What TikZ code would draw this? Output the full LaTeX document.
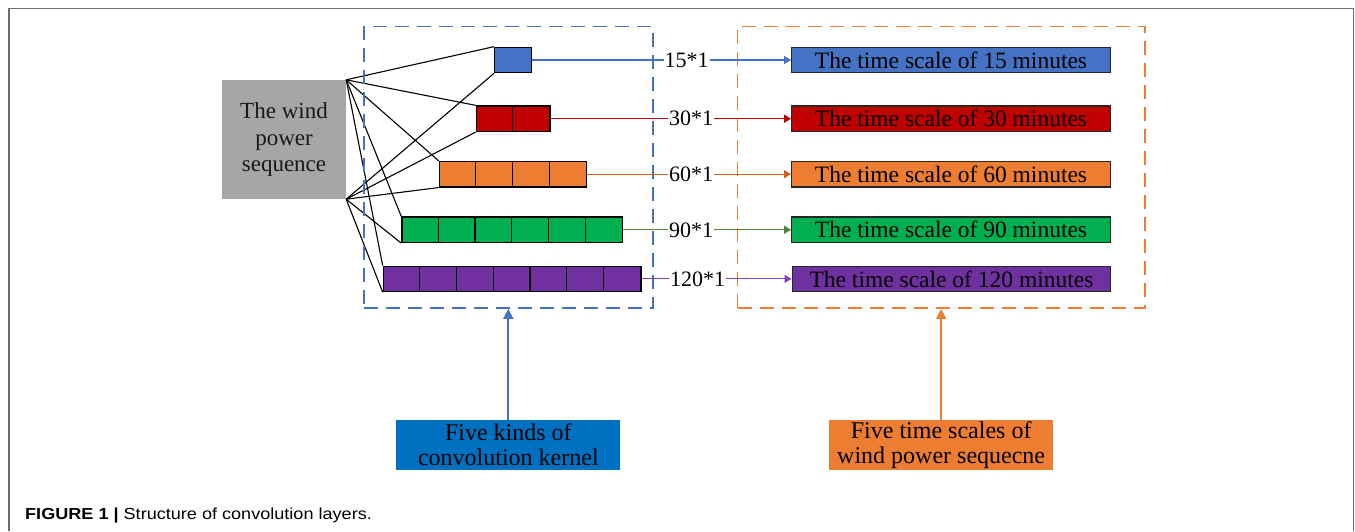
\documentclass[tikz,border=0pt]{standalone}
\usepackage{fontspec}
\setmainfont{Liberation Serif}
\newfontfamily\capfont[FakeStretch=1.13]{Liberation Sans}
\usetikzlibrary{arrows.meta}
\definecolor{kblue}{HTML}{4472C4}
\definecolor{kred}{HTML}{C00000}
\definecolor{korange}{HTML}{ED7D31}
\definecolor{kgreen}{HTML}{00B050}
\definecolor{kpurple}{HTML}{7030A0}
\definecolor{lorange}{HTML}{D2601A}
\definecolor{lgreen}{HTML}{548235}
\definecolor{lpurple}{HTML}{8040B8}
\definecolor{bblue}{HTML}{0070C0}
\definecolor{sgrey}{HTML}{A6A6A6}
\definecolor{framegrey}{HTML}{6E6E6E}
\begin{document}
\begin{tikzpicture}[x=1pt,y=-1pt,
  kernel/.style={draw=black,line width=1.2pt,minimum height=25.5pt,inner sep=0pt,anchor=west},
  divider/.style={draw=black,line width=1.2pt},
  fan/.style={draw=black,line width=1.1pt},
  scalebox/.style={draw=black!85,line width=1.3pt,minimum width=318.5pt,minimum height=25.5pt,inner sep=0pt,
    font=\fontsize{23.5}{26}\selectfont,text=black},
  lbl/.style={inner sep=0.6pt,font=\fontsize{22}{26}\selectfont},
  link/.style={line width=1.1pt},
  tip/.style={-{Triangle[length=7pt,width=8pt]}},
  dashbox/.style={line width=1.8pt,dash pattern=on 14pt off 8pt,minimum width=#1,minimum height=281.5pt,inner sep=0pt},
  infobox/.style={minimum height=50pt,inner sep=0pt,align=center,font=\fontsize{24}{25}\selectfont},
  uparrow/.style={line width=1.8pt,-{Triangle[length=10pt,width=10pt]}}
]
\useasboundingbox (0,0) rectangle (1355,531);
% outer frame
\draw[framegrey,line width=1.6pt] (9,531) -- (9,8.5) -- (1353.5,8.5) -- (1353.5,531);

% source
\node[fill=sgrey,minimum width=124pt,minimum height=119pt,inner sep=0pt,align=center,
  font=\fontsize{23}{26.5}\selectfont,text=black!90] (g) at (284,139.5) {The wind\\power\\sequence};

% kernels
\node[kernel,fill=kblue,minimum width=36.8pt] (k1) at (494,60) {};
\node[kernel,fill=kred,minimum width=73.6pt] (k2) at (475.7,118.7) {};
\node[kernel,fill=korange,minimum width=147.2pt] (k3) at (438.7,174.2) {};
\node[kernel,fill=kgreen,minimum width=220.8pt] (k4) at (401.3,229.8) {};
\node[kernel,fill=kpurple,minimum width=257.6pt] (k5) at (382.7,278.9) {};
\draw[divider] ([xshift=36.8pt]k2.north west) -- ([xshift=36.8pt]k2.south west);
\foreach \i in {1,2,3}{\draw[divider] ([xshift=\i*36.8pt]k3.north west) -- ([xshift=\i*36.8pt]k3.south west);}
\foreach \i in {1,...,5}{\draw[divider] ([xshift=\i*36.8pt]k4.north west) -- ([xshift=\i*36.8pt]k4.south west);}
\foreach \i in {1,...,6}{\draw[divider] ([xshift=\i*36.8pt]k5.north west) -- ([xshift=\i*36.8pt]k5.south west);}

% fan connections
\foreach \k in {k1,k2,k3,k4,k5}{
  \draw[fan] (g.north east) -- (\k.north west);
  \draw[fan] (g.south east) -- (\k.south west);
}

% dashed groups
\node[dashbox=288.7pt,draw=kblue] (db) at (508.35,167.25) {};
\node[dashbox=407.3pt,draw=korange] (do) at (941.15,167.25) {};

% labels
\node[lbl] (l1) at (686.7,60) {15*1};
\node[lbl] (l2) at (691,118.7) {30*1};
\node[lbl] (l3) at (691,174.2) {60*1};
\node[lbl] (l4) at (691,229.8) {90*1};
\node[lbl] (l5) at (697.5,278.9) {120*1};

% time-scale boxes
\node[scalebox,fill=kblue] (t1) at (951,60) {The time scale of 15 minutes};
\node[scalebox,fill=kred] (t2) at (951,118.7) {The time scale of 30 minutes};
\node[scalebox,fill=korange] (t3) at (951,174.2) {The time scale of 60 minutes};
\node[scalebox,fill=kgreen] (t4) at (951,229.8) {The time scale of 90 minutes};
\node[scalebox,fill=kpurple] (t5) at (951.5,278.9) {The time scale of 120 minutes};

% links
\draw[link,kblue] (k1.east) -- (l1.west);
\draw[link,kblue,tip] (l1.east) -- (t1.west);
\draw[link,kred] (k2.east) -- (l2.west);
\draw[link,kred,tip] (l2.east) -- (t2.west);
\draw[link,lorange] (k3.east) -- (l3.west);
\draw[link,lorange,tip] (l3.east) -- (t3.west);
\draw[link,lgreen] (k4.east) -- (l4.west);
\draw[link,lgreen,tip] (l4.east) -- (t4.west);
\draw[link,lpurple] (k5.east) -- (l5.west);
\draw[link,lpurple,tip] (l5.east) -- (t5.west);

% bottom notes
\node[infobox,fill=bblue,minimum width=224pt] (b1) at (508.35,445) {Five kinds of\\convolution kernel};
\node[infobox,fill=korange,minimum width=224.6pt] (b2) at (941.15,445) {Five time scales of\\wind power sequecne};
\draw[uparrow,kblue] (b1.north) -- (db.south);
\draw[uparrow,korange] (b2.north) -- (do.south);

% caption
\node[anchor=base west,inner sep=0pt,font=\capfont\fontsize{16}{18}\selectfont] (cap) at (25,519.5)
  {\textbf{FIGURE 1 |} Structure of convolution layers.};
\end{tikzpicture}
\end{document}
